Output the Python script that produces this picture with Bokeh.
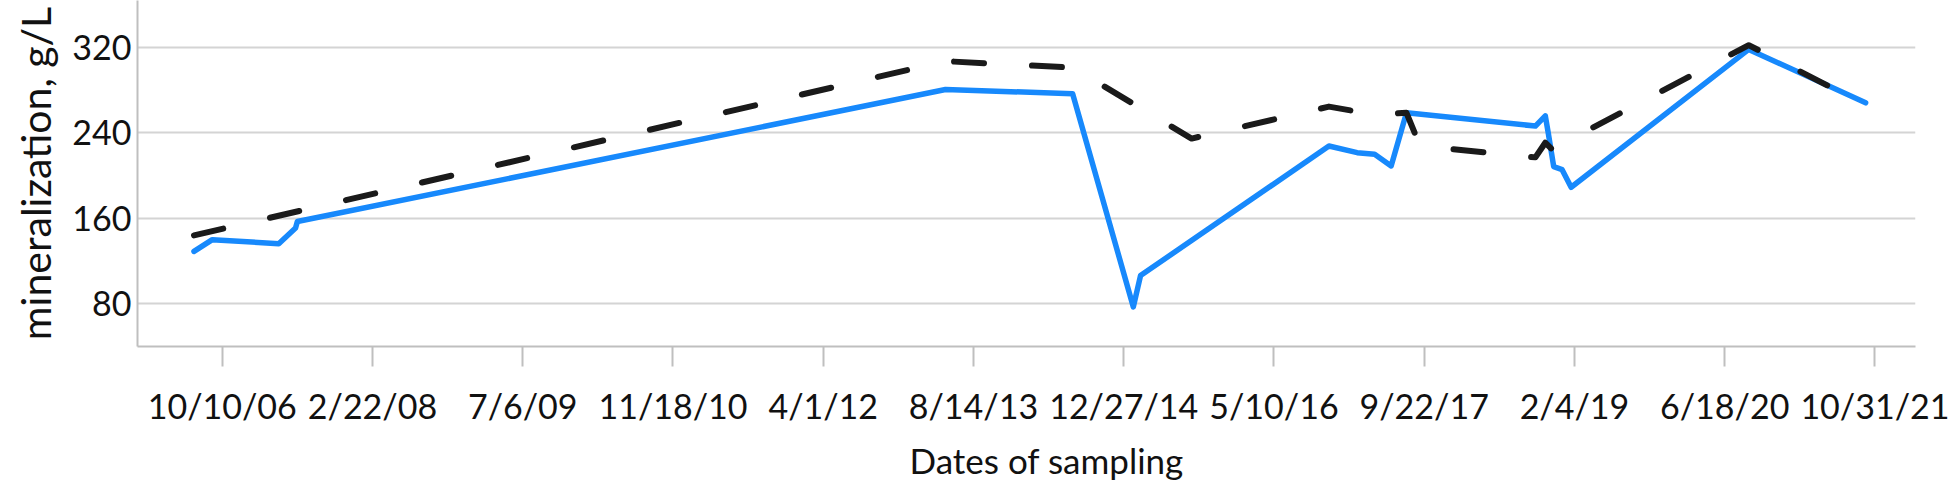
import datetime as dt
from bokeh.plotting import figure
from bokeh.models import Range1d, FixedTicker, CustomJSTickFormatter, Title
from bokeh.embed import file_html
from bokeh.resources import INLINE

# ---- data ----
blue_dates = ["2006-07-08", "2006-09-07", "2007-04-16", "2007-06-11", "2007-06-17",
              "2013-05-13", "2014-07-10", "2015-01-28", "2015-02-21", "2016-11-09",
              "2017-02-11", "2017-04-10", "2017-06-04", "2017-07-25", "2018-09-27",
              "2018-10-30", "2018-11-09", "2018-11-27", "2018-12-25", "2019-01-24",
              "2020-09-06", "2021-09-30"]
blue_values = [129, 140, 136.2, 150.9, 157,
               280.5, 276.6, 77, 106.4, 227.6,
               221.4, 219.9, 209, 258.7, 246.3,
               255.9, 239.5, 208.3, 205.5, 189,
               318, 268]

black_dates = ["2006-07-08", "2013-05-13", "2014-07-10", "2015-08-10", "2016-11-09",
               "2017-04-10", "2017-07-25", "2017-09-08", "2018-09-27", "2018-10-30",
               "2018-11-21", "2020-09-06", "2021-09-30"]
black_values = [144, 307, 301, 234.6, 264.5,
                257, 258.7, 227.7, 217, 230.7,
                224.6, 322, 266]

tick_dates = ["2006-10-10", "2008-02-22", "2009-07-06", "2010-11-18", "2012-04-01",
              "2013-08-14", "2014-12-27", "2016-05-10", "2017-09-22", "2019-02-04",
              "2020-06-18", "2021-10-31"]
y_ticks = [80, 160, 240, 320]

x_start = "2006-01-01"
x_end = "2022-03-15"
y_start = 40
y_end = 363.8

x_title = "Dates of sampling"
y_title = "mineralization, g/L"


def to_dt(s):
    return dt.datetime.strptime(s, "%Y-%m-%d")


def to_ms(s):
    return (to_dt(s) - dt.datetime(1970, 1, 1)).total_seconds() * 1000.0


FONT = "Lato"

p = figure(width=1949, height=489, x_axis_type="datetime",
           output_backend="svg", toolbar_location=None,
           min_border_left=137, min_border_right=34,
           min_border_top=0, min_border_bottom=142)

p.x_range = Range1d(to_dt(x_start), to_dt(x_end))
p.y_range = Range1d(y_start, y_end)

p.line([to_dt(d) for d in blue_dates], blue_values, line_color="#1789FC",
       line_width=5.5, line_join="round", line_cap="round")
p.line([to_dt(d) for d in black_dates], black_values, line_color="#1a1a1a",
       line_width=6, line_dash="30 48", line_join="round", line_cap="round")

p.outline_line_color = None
p.background_fill_color = "white"
p.border_fill_color = "white"

# x axis
xa = p.xaxis[0]
xa.ticker = FixedTicker(ticks=[to_ms(d) for d in tick_dates])
xa.formatter = CustomJSTickFormatter(code="""
const d = new Date(tick);
return (d.getUTCMonth() + 1) + "/" + d.getUTCDate() + "/" + String(d.getUTCFullYear() % 100).padStart(2, "0");
""")
xa.axis_line_color = "#bfbfbf"
xa.axis_line_width = 2
xa.major_tick_line_color = "#bfbfbf"
xa.major_tick_line_width = 2
xa.major_tick_out = 20
xa.major_tick_in = 0
xa.minor_tick_line_color = None
xa.major_label_text_font = FONT
xa.major_label_text_font_size = "34px"
xa.major_label_text_color = "#111111"
xa.major_label_standoff = 18

# x axis title (as a title below the axis, placed like the reference)
p.add_layout(Title(text=x_title, align="left", offset=772, standoff=17,
                   text_font=FONT, text_font_size="35px",
                   text_font_style="normal", text_color="#111111"), "below")

# y axis
ya = p.yaxis[0]
ya.ticker = FixedTicker(ticks=y_ticks)
ya.axis_label = y_title
ya.axis_line_color = "#bfbfbf"
ya.axis_line_width = 2
ya.major_tick_line_color = None
ya.major_tick_out = 0
ya.major_tick_in = 0
ya.minor_tick_line_color = None
ya.major_label_text_font = FONT
ya.major_label_text_font_size = "34px"
ya.major_label_text_color = "#111111"
ya.major_label_standoff = 6
ya.axis_label_text_font = FONT
ya.axis_label_text_font_size = "41px"
ya.axis_label_text_font_style = "normal"
ya.axis_label_text_color = "#111111"
ya.axis_label_standoff = 9

p.xgrid.grid_line_color = None
p.ygrid.grid_line_color = "#d4d4d4"
p.ygrid.grid_line_width = 2

open("out.html", "w").write(file_html(p, INLINE))
